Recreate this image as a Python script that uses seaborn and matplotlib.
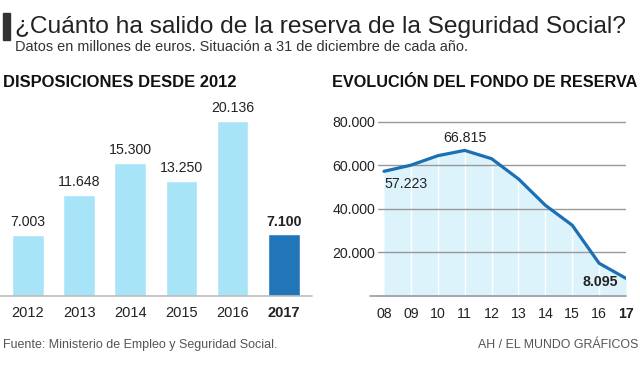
import matplotlib
matplotlib.use('Agg')
import matplotlib.pyplot as plt
import seaborn as sns
import pandas as pd
from matplotlib.patches import Rectangle

# datos
anios_disp = ['2012', '2013', '2014', '2015', '2016', '2017']
disposiciones = [7003, 11648, 15300, 13250, 20136, 7100]
etiquetas_disp = ['7.003', '11.648', '15.300', '13.250', '20.136', '7.100']

anios_fondo = ['08', '09', '10', '11', '12', '13', '14', '15', '16', '17']
fondo = [57223, 60022, 64375, 66815, 63008, 53744, 41634, 32481, 15020, 8095]
ticks_fondo = [20000, 40000, 60000, 80000]
ticks_fondo_lbl = ['20.000', '40.000', '60.000', '80.000']

sns.set_style('white')
plt.rcParams['font.family'] = ['Liberation Sans', 'DejaVu Sans']

W, H = 640, 365
fig = plt.figure(figsize=(6.4, 3.65), dpi=100)
renderer = fig.canvas.get_renderer()


def px_axes(x0, y_top, x1, y_bot):
    return fig.add_axes([x0 / W, (H - y_bot) / H, (x1 - x0) / W, (y_bot - y_top) / H])


def ajustar(t, ancho):
    # escala la fuente para que el texto mida 'ancho' px
    w = t.get_window_extent(renderer).width
    t.set_fontsize(t.get_fontsize() * ancho / w)


# cabecera
fig.patches.append(Rectangle((3 / W, (H - 40) / H), 7 / W, 27 / H,
                             transform=fig.transFigure, color='#333333'))
t = fig.text(15 / W, (H - 33) / H, '¿Cuánto ha salido de la reserva de la Seguridad Social?',
             fontsize=18, color='#222222', va='baseline')
ajustar(t, 612)
t = fig.text(15 / W, (H - 51) / H, 'Datos en millones de euros. Situación a 31 de diciembre de cada año.',
             fontsize=10, color='#333333', va='baseline')
ajustar(t, 453)
t = fig.text(3 / W, (H - 87) / H, 'DISPOSICIONES DESDE 2012', fontsize=11,
             fontweight='bold', color='#111111', va='baseline')
ajustar(t, 232)
t = fig.text(332 / W, (H - 87) / H, 'EVOLUCIÓN DEL FONDO DE RESERVA', fontsize=11,
             fontweight='bold', color='#111111', va='baseline')
ajustar(t, 305)
t = fig.text(3 / W, (H - 348) / H, 'Fuente: Ministerio de Empleo y Seguridad Social.',
             fontsize=9, color='#555555', va='baseline')
ajustar(t, 274)
t = fig.text(638 / W, (H - 348) / H, 'AH / EL MUNDO GRÁFICOS',
             fontsize=9, color='#555555', va='baseline', ha='right')
ajustar(t, 161)

# barras
ax1 = px_axes(2.4, 95, 309.3, 296)
df1 = pd.DataFrame({'anio': anios_disp, 'valor': disposiciones})
colores = ['#a8e4f8'] * 5 + ['#2176ba']
sns.barplot(data=df1, x='anio', y='valor', hue='anio', palette=colores,
            width=0.62, legend=False, ax=ax1, saturation=1)
ax1.set_ylim(0, 23090)
ax1.set_xlim(-0.5, 5.5)
for i, (v, t) in enumerate(zip(disposiciones, etiquetas_disp)):
    ax1.text(i, v + 650, t, ha='center', va='bottom', fontsize=10.2,
             color='#222222', fontweight='bold' if i == 5 else 'normal')
ax1.axhline(0, color='#bbbbbb', lw=1.2, xmin=-0.01, xmax=1.01, clip_on=False)
sns.despine(ax=ax1, left=True, bottom=True)
ax1.set_yticks([])
ax1.set_xlabel('')
ax1.set_ylabel('')
ax1.tick_params(axis='x', length=0, pad=7, labelsize=10.5, labelcolor='#222222')
ax1.get_xticklabels()[-1].set_fontweight('bold')

# linea
ax2 = px_axes(378, 117.3, 626, 296)
df2 = pd.DataFrame({'x': range(len(anios_fondo)), 'valor': fondo})
ax2.fill_between(df2['x'], 0, df2['valor'], color='#dcf3fc', lw=0)
ax2.vlines(df2['x'][1:-1], 0, df2['valor'][1:-1], color='white', lw=1)
for y in ticks_fondo:
    ax2.axhline(y, color='#999999', lw=1)
ax2.axhline(0, color='#999999', lw=1.2, xmin=-8 / 248, xmax=1, clip_on=False)
sns.lineplot(data=df2, x='x', y='valor', color='#1a6fb5', lw=2.3, ax=ax2)
ax2.set_xlim(-0.223, 9)
ax2.set_ylim(0, 82000)
sns.despine(ax=ax2, left=True, bottom=True)
ax2.set_xticks(range(len(anios_fondo)))
ax2.set_xticklabels(anios_fondo)
ax2.get_xticklabels()[-1].set_fontweight('bold')
ax2.set_yticks(ticks_fondo)
ax2.set_yticklabels(ticks_fondo_lbl)
ax2.tick_params(axis='x', length=0, pad=8, labelsize=10.2, labelcolor='#222222')
ax2.tick_params(axis='y', length=0, pad=2, labelsize=10.2, labelcolor='#222222')
ax2.set_xlabel('')
ax2.set_ylabel('')
ax2.text(0, fondo[0] - 2500, '57.223', ha='left', va='top', fontsize=10.2, color='#222222')
ax2.text(3, fondo[3] + 2500, '66.815', ha='center', va='bottom', fontsize=10.2, color='#222222')
ax2.text(8.7, 3000, '8.095', ha='right', va='bottom', fontsize=10.2,
         color='#222222', fontweight='bold')

fig.savefig('out.png', dpi=100)
